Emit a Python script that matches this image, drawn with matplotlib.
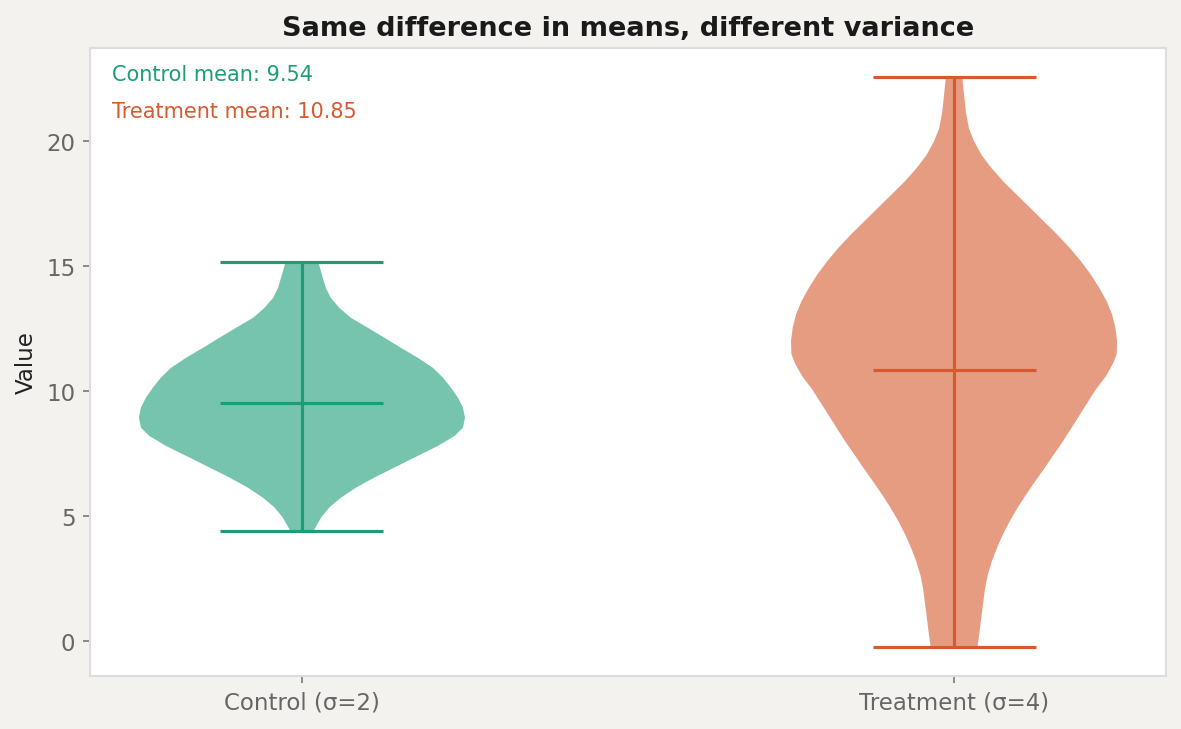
import numpy as np
import matplotlib
matplotlib.use("Agg")
import matplotlib.pyplot as plt

# ---- data ----
categories = ["Control (σ=2)", "Treatment (σ=4)"]
means = [9.54, 10.85]
medians = [9.0, 11.9]
mins = [4.42, -0.24]
maxs = [15.17, 22.59]

# density profile (value level, relative density) for each group
control_levels = [4.42, 4.50, 4.97, 5.37, 5.76, 6.16, 6.56, 6.96, 7.36, 7.82,
                  8.22, 8.55, 8.95, 9.35, 9.75, 10.15, 10.55, 10.94, 11.34,
                  11.74, 12.14, 12.54, 12.94, 13.33, 13.73, 14.13, 14.66,
                  15.13, 15.17]
control_density = [12, 12.7, 19.4, 27.7, 39.4, 54.4, 72.7, 92.7, 112.7, 136,
                   152.7, 161, 163, 161, 156, 149, 141, 131, 116,
                   99, 82.7, 66, 49, 37.7, 29, 24, 20,
                   16.7, 16.5]

treatment_levels = [-0.24, -0.21, 0.52, 1.05, 1.58, 2.11, 2.64, 3.18, 3.71,
                    4.24, 4.77, 5.30, 5.83, 6.36, 6.89, 7.42, 7.96, 8.49,
                    9.02, 9.55, 10.08, 10.61, 11.14, 11.49, 12.02, 12.55,
                    13.08, 13.61, 14.14, 14.67, 15.21, 15.74, 16.27, 16.80,
                    17.33, 17.86, 18.39, 18.92, 19.45, 19.99, 20.52, 21.18,
                    21.84, 22.51, 22.59]
treatment_density = [23, 23.3, 25.7, 27.3, 29, 30.7, 33.3, 37.3, 42.3,
                     48, 54.7, 62.3, 70.7, 79.7, 89, 98, 107.3, 115.7,
                     124, 132.3, 140.7, 150.7, 158, 161.3, 161.7, 160,
                     156.7, 151.3, 144, 135.7, 125.7, 114.7, 102.3, 89,
                     75.7, 62.3, 49, 37.3, 27.3, 20, 14.7, 11.7,
                     10, 8.3, 8.1]

colors = ["#1b9e77", "#d65a2e"]

# ---- figure ----
fig = plt.figure(figsize=(1181 / 150, 730 / 150), dpi=150, facecolor="#f4f2ee")
ax = fig.add_axes([0.0762, 0.0726, 0.9111, 0.8603])
ax.set_facecolor("white")

vpstats = []
for lv, dn, mu, md, lo, hi in zip([control_levels, treatment_levels],
                                  [control_density, treatment_density],
                                  means, medians, mins, maxs):
    vpstats.append(dict(coords=np.array(lv, dtype=float),
                        vals=np.array(dn, dtype=float),
                        mean=mu, median=md, min=lo, max=hi))

parts = ax.violin(vpstats, positions=[1, 2], widths=0.5,
                  showmeans=True, showextrema=True, showmedians=False)

for body, c in zip(parts["bodies"], colors):
    body.set_facecolor(c)
    body.set_edgecolor("none")
    body.set_alpha(0.6)
for key in ["cmeans", "cmins", "cmaxes", "cbars"]:
    parts[key].set_color(colors)
    parts[key].set_linewidth(1.5)

ax.set_xticks([1, 2])
ax.set_xticklabels(categories)
ax.set_yticks([0, 5, 10, 15, 20])

ax.set_ylabel("Value", fontsize=11, color="#222222")
ax.set_title("Same difference in means, different variance",
             fontsize=13, fontweight="bold", color="#1a1a1a", pad=6)

ax.tick_params(axis="both", colors="#777777", labelcolor="#666666",
               labelsize=11, width=0.8, length=3.5)
for s in ax.spines.values():
    s.set_color("#dddddd")
    s.set_linewidth(1.0)

ax.text(0.02, 0.975, f"Control mean: {means[0]:.2f}", transform=ax.transAxes,
        ha="left", va="top", fontsize=10, color=colors[0])
ax.text(0.02, 0.915, f"Treatment mean: {means[1]:.2f}", transform=ax.transAxes,
        ha="left", va="top", fontsize=10, color=colors[1])

fig.savefig("out.png", dpi=150, facecolor=fig.get_facecolor())
